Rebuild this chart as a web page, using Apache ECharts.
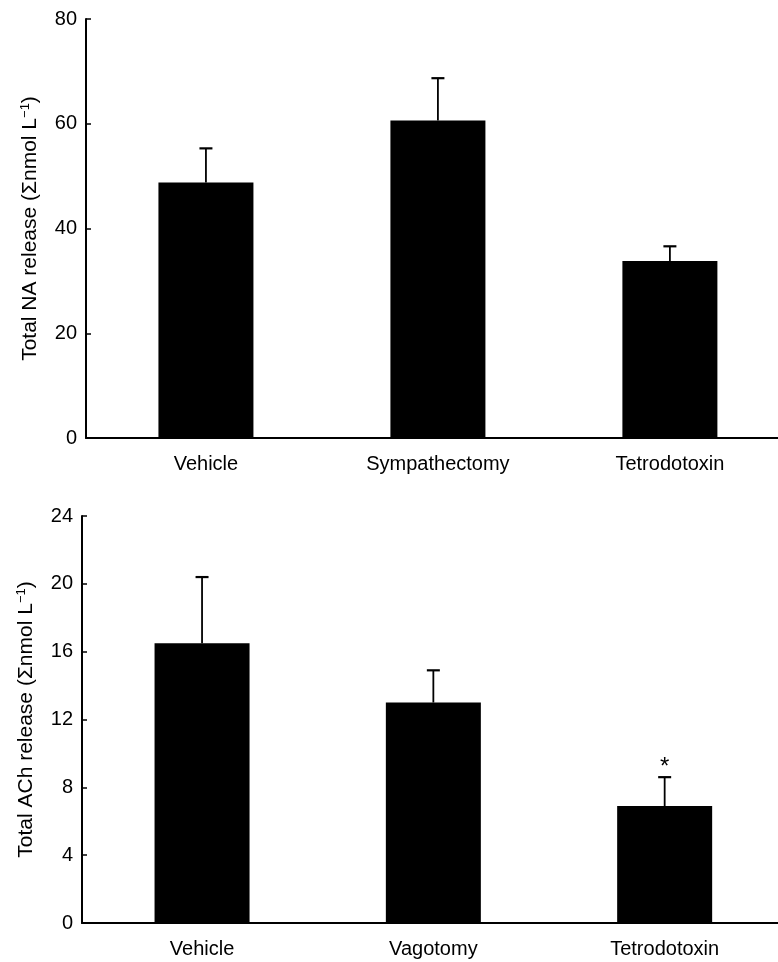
<!DOCTYPE html>
<html>
<head>
<meta charset="utf-8">
<script src="https://cdn.jsdelivr.net/npm/echarts@6/dist/echarts.min.js"></script>
<style>
  html, body { margin: 0; padding: 0; background: #fff; }
  #chart { width: 778px; height: 962px; }
</style>
</head>
<body>
<div id="chart"></div>
<script>
// ---- Data ----
const topCategories = ['Vehicle', 'Sympathectomy', 'Tetrodotoxin'];
const topMeans = [48.8, 60.6, 33.8];
const topErrTops = [55.3, 68.7, 36.6];
const topYMax = 80;
const topYStep = 20;
const topTitle = 'Total NA release (Σnmol L';

const bottomCategories = ['Vehicle', 'Vagotomy', 'Tetrodotoxin'];
const bottomMeans = [16.5, 13.0, 6.9];
const bottomErrTops = [20.4, 14.9, 8.6];
const bottomMarks = ['', '', '*'];
const bottomYMax = 24;
const bottomYStep = 4;
const bottomTitle = 'Total ACh release (Σnmol L';

// ---- Chart ----
const FONT = 'Liberation Sans, Arial, Helvetica, sans-serif';
const chart = echarts.init(document.getElementById('chart'), null, { renderer: 'canvas' });

function xAxisFor(gridIndex, cats, min, max) {
  return {
    type: 'value', gridIndex, min, max,
    axisLine: { show: true, lineStyle: { color: '#000', width: 2 } },
    axisTick: { show: false },
    splitLine: { show: false },
    axisLabel: {
      customValues: cats.map((c, i) => i + 1),
      formatter: v => cats[Math.round(v) - 1] || '',
      color: '#000', fontSize: 20, fontFamily: FONT, margin: 16
    }
  };
}

function yAxisFor(gridIndex, max, step, title) {
  return {
    type: 'value', gridIndex, min: 0, max, interval: step,
    axisLine: { show: true, lineStyle: { color: '#000', width: 2 } },
    axisTick: { show: true, inside: true, length: 5, lineStyle: { color: '#000', width: 1.5 } },
    splitLine: { show: false },
    axisLabel: { color: '#000', fontSize: 20, fontFamily: FONT, margin: 9 },
    name: title + '{sup|−1}' + ')',
    nameLocation: 'middle',
    nameGap: 44,
    nameTextStyle: {
      color: '#000', fontSize: 21, fontFamily: FONT,
      rich: { sup: { fontSize: 13, fontFamily: FONT, color: '#000', padding: [0, 0, 10, 0] } }
    }
  };
}

function errorSeries(idx, means, tops, marks) {
  return {
    type: 'custom', xAxisIndex: idx, yAxisIndex: idx, z: 5,
    data: means.map((m, i) => [i + 1, m, tops[i], marks ? marks[i] : '']),
    encode: { x: 0, y: 2 },
    renderItem: function (params, api) {
      const x = api.value(0);
      const base = api.coord([x, api.value(1)]);
      const top = api.coord([x, api.value(2)]);
      const half = 6.5;
      const children = [
        { type: 'line', shape: { x1: base[0], y1: base[1], x2: top[0], y2: top[1] },
          style: { stroke: '#000', lineWidth: 1.8 } },
        { type: 'line', shape: { x1: top[0] - half, y1: top[1], x2: top[0] + half, y2: top[1] },
          style: { stroke: '#000', lineWidth: 2.2 } }
      ];
      const mark = api.value(3);
      if (mark) {
        children.push({ type: 'text', style: { text: mark, x: top[0], y: top[1] - 10,
          align: 'center', verticalAlign: 'middle', fill: '#000', fontSize: 24, fontFamily: FONT } });
      }
      return { type: 'group', children };
    }
  };
}

const option = {
  backgroundColor: '#fff',
  animation: false,
  grid: [
    { left: 86, top: 19, width: 692, height: 419 },
    { left: 82, top: 516, width: 696, height: 407 }
  ],
  xAxis: [
    xAxisFor(0, topCategories, 0.483, 3.466),
    xAxisFor(1, bottomCategories, 0.481, 3.49)
  ],
  yAxis: [
    yAxisFor(0, topYMax, topYStep, topTitle),
    yAxisFor(1, bottomYMax, bottomYStep, bottomTitle)
  ],
  series: [
    { type: 'bar', xAxisIndex: 0, yAxisIndex: 0, barWidth: 95,
      itemStyle: { color: '#000' },
      data: topMeans.map((v, i) => [i + 1, v]) },
    errorSeries(0, topMeans, topErrTops, null),
    { type: 'bar', xAxisIndex: 1, yAxisIndex: 1, barWidth: 95,
      itemStyle: { color: '#000' },
      data: bottomMeans.map((v, i) => [i + 1, v]) },
    errorSeries(1, bottomMeans, bottomErrTops, bottomMarks)
  ]
};
chart.setOption(option);
</script>
</body>
</html>
